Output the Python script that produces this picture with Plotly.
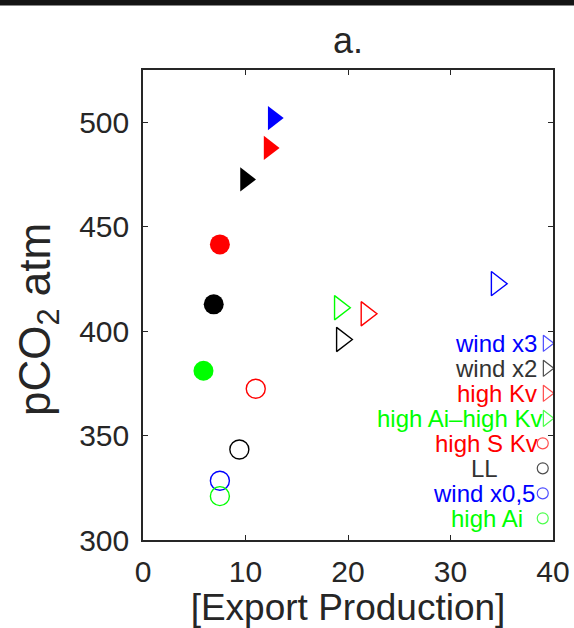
import plotly.graph_objects as go

# ---------------- data ----------------
# open triangles (legend entries)
tri_names = ["wind x3", "wind x2", "high Kv", "high Ai\u2013high Kv"]
tri_colors = ["#0000ff", "#000000", "#ff0000", "#00ff00"]
tri_x = [34.5, 19.4, 21.8, 19.2]
tri_y = [422.7, 396.0, 408.3, 411.2]

# open circles (legend entries)
circ_names = ["high S Kv", "LL", "wind x0,5", "high Ai"]
circ_colors = ["#ff0000", "#000000", "#0000ff", "#00ff00"]
circ_x = [11.0, 9.4, 7.5, 7.5]
circ_y = [372.4, 343.3, 328.4, 321.0]

# filled triangles
ftri_colors = ["#0000ff", "#ff0000", "#000000"]
ftri_x = [12.7, 12.3, 10.0]
ftri_y = [502.0, 487.7, 472.6]

# filled circles
fcirc_colors = ["#ff0000", "#000000", "#00ff00"]
fcirc_x = [7.5, 6.9, 5.9]
fcirc_y = [441.5, 412.8, 381.0]

x_ticks = [0, 10, 20, 30, 40]
y_ticks = [300, 350, 400, 450, 500]

# ---------------- figure ----------------
FONT = "Liberation Sans, Arial, Helvetica, sans-serif"
TXT = "#262626"

fig = go.Figure()

fig.add_trace(go.Scatter(x=ftri_x, y=ftri_y, mode="markers",
                         marker=dict(symbol="triangle-right", size=21, color=ftri_colors,
                                     line=dict(width=0)),
                         showlegend=False, hoverinfo="skip"))
fig.add_trace(go.Scatter(x=fcirc_x, y=fcirc_y, mode="markers",
                         marker=dict(symbol="circle", size=20, color=fcirc_colors,
                                     line=dict(width=0)),
                         showlegend=False, hoverinfo="skip"))
fig.add_trace(go.Scatter(x=tri_x, y=tri_y, mode="markers",
                         marker=dict(symbol="triangle-right-open", size=21, color=tri_colors,
                                     line=dict(width=1.4, color=tri_colors)),
                         showlegend=False, hoverinfo="skip"))
fig.add_trace(go.Scatter(x=circ_x, y=circ_y, mode="markers",
                         marker=dict(symbol="circle-open", size=19, color=circ_colors,
                                     line=dict(width=1.4, color=circ_colors)),
                         showlegend=False, hoverinfo="skip"))

# ---- custom legend (text left of marker, inside the right edge) ----
names = tri_names + circ_names
colors = tri_colors + circ_colors
symbols = ["triangle-right-open"] * len(tri_names) + ["circle-open"] * len(circ_names)
n = len(names)
row_top, row_step = 0.4185, 0.0532
leg_y = [row_top - i * row_step for i in range(n)]
leg_x = [0.985] * len(tri_names) + [0.975] * len(circ_names)
leg_size = [14] * len(tri_names) + [11] * len(circ_names)
text_shift = [-8, -8, -8, -3, -3, -43, -6, -18]

fig.add_trace(go.Scatter(x=leg_x, y=leg_y, xaxis="x2", yaxis="y2", mode="markers",
                         marker=dict(symbol=symbols, size=leg_size, color=colors,
                                     line=dict(width=1.2, color=colors)),
                         showlegend=False, hoverinfo="skip", cliponaxis=False))

annotations = []
for name, col, lx, ly, sh in zip(names, colors, leg_x, leg_y, text_shift):
    annotations.append(dict(x=lx, y=ly, xref="x2", yref="y2", text=name,
                            showarrow=False, xanchor="right", yanchor="middle",
                            xshift=sh, font=dict(size=24, color=col if col != "#000000" else "#333333",
                                                 family=FONT)))

# y-axis title as an annotation (slightly below the axis centre, as in the reference)
annotations.append(dict(x=-(143 - 38) / 410, y=0.5, xref="paper", yref="paper",
                        text="pCO<sub>2</sub> atm", textangle=-90, showarrow=False,
                        xanchor="center", yanchor="middle", yshift=-15,
                        font=dict(size=44, color=TXT, family=FONT)))

axis_common = dict(showline=True, linecolor=TXT, linewidth=1.5, mirror="ticks",
                   ticks="inside", ticklen=5, tickwidth=1.2, tickcolor=TXT,
                   showgrid=False, zeroline=False, automargin=False,
                   tickfont=dict(size=30, color=TXT, family=FONT))

fig.update_layout(
    width=574, height=628,
    margin=dict(l=143, r=21, t=70, b=88),
    paper_bgcolor="white", plot_bgcolor="white",
    title=dict(text="a.", x=0.5, xref="paper", xanchor="center",
               y=1 - 53 / 628, yanchor="bottom",
               font=dict(size=36, color=TXT, family=FONT)),
    xaxis=dict(range=[0, 40], tickvals=x_ticks, ticklabelstandoff=4,
               title=dict(text="[Export Production]", standoff=2,
                          font=dict(size=37, color=TXT, family=FONT)),
               **axis_common),
    yaxis=dict(range=[300, 525], tickvals=y_ticks, ticklabelstandoff=6,
               **axis_common),
    xaxis2=dict(range=[0, 1], overlaying="x", visible=False, fixedrange=True),
    yaxis2=dict(range=[0, 1], overlaying="y", visible=False, fixedrange=True),
    annotations=annotations,
    shapes=[dict(type="rect", xref="paper", yref="paper", x0=-0.5, x1=1.5,
                 y0=1 + 64.5 / 470, y1=1 + 75 / 470, fillcolor="#141414",
                 line=dict(width=0), layer="above")],
    showlegend=False,
)

fig.write_html("out.html")
